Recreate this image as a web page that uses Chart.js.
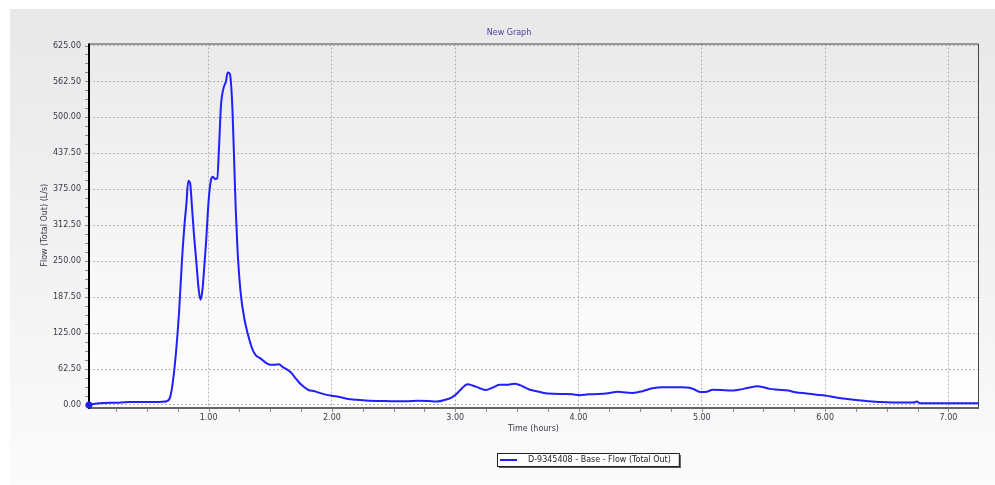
<!DOCTYPE html>
<html>
<head>
<meta charset="utf-8">
<title>New Graph</title>
<script src="https://cdn.jsdelivr.net/npm/chart.js@4.4.1/dist/chart.umd.min.js"></script>
<style>
    body { margin: 0; background: #ffffff; }
    #wrap { position: relative; width: 995px; height: 485px; }
</style>
</head>
<body>
<div id="wrap"><canvas id="flowChart"></canvas></div>
<script>
        // Data
        const chartTitle = 'New Graph';
        const seriesLabel = 'D-9345408 - Base - Flow (Total Out)';
        const xAxisTitle = 'Time (hours)';
        const yAxisTitle = 'Flow (Total Out) (L/s)';

        const timeHours = [
            0.03, 0.08, 0.15, 0.25, 0.35, 0.45, 0.55, 0.62, 0.66, 0.69,
            0.71, 0.735, 0.76, 0.785, 0.805, 0.82, 0.835, 0.85, 0.865, 0.88,
            0.90, 0.92, 0.935, 0.95, 0.965, 0.98, 1.00, 1.02, 1.035, 1.05,
            1.07, 1.085, 1.10, 1.12, 1.14, 1.155, 1.172, 1.19, 1.205, 1.22,
            1.235, 1.26, 1.29, 1.32, 1.35, 1.38, 1.42, 1.46, 1.50, 1.54,
            1.57, 1.60, 1.64, 1.67, 1.70, 1.73, 1.77, 1.81, 1.86, 1.90,
            1.95, 2.00, 2.06, 2.12, 2.20, 2.30, 2.40, 2.50, 2.60, 2.70,
            2.78, 2.85, 2.92, 2.97, 3.01, 3.05, 3.10, 3.14, 3.20, 3.25,
            3.30, 3.36, 3.42, 3.48, 3.53, 3.60, 3.66, 3.72, 3.80, 3.88,
            3.95, 4.01, 4.08, 4.16, 4.24, 4.32, 4.36, 4.44, 4.52, 4.60,
            4.68, 4.76, 4.84, 4.90, 4.94, 4.99, 5.04, 5.09, 5.16, 5.23,
            5.30, 5.38, 5.45, 5.50, 5.55, 5.62, 5.70, 5.76, 5.85, 5.93,
            6.00, 6.08, 6.16, 6.25, 6.35, 6.45, 6.55, 6.65, 6.72, 6.745,
            6.77, 6.85, 7.00, 7.10, 7.24
        ];
        const flowValues = [
            0, 2, 3.5, 4, 5, 5, 5, 5.5, 6.5, 15,
            40, 90, 160, 255, 315, 350, 390, 386, 345, 300,
            250, 200, 183, 200, 240, 285, 355, 392, 397, 393,
            394, 450, 520, 550, 562, 578, 576, 530, 440, 340,
            268, 195, 150, 122, 100, 87, 81, 74, 70, 70,
            71, 66, 61, 56, 48, 40, 32, 26, 24, 21,
            18, 16, 14, 11, 9, 7.5, 7, 6.5, 6.5, 7.5,
            7, 6, 9, 13, 19, 28, 36, 34, 29, 26,
            30, 35, 35, 37, 34, 27, 24, 21, 19.5, 19,
            18.5, 17, 18.5, 19, 20.5, 23, 22, 21, 24, 29,
            31, 31, 31, 30, 27, 22.5, 23, 26.5, 26, 25,
            26.5, 30, 32.5, 31, 28, 26.5, 25, 22, 20, 18,
            16.5, 13.5, 11, 8.5, 6.5, 5, 4.5, 4.5, 4.5, 6,
            3, 3, 3, 3, 3
        ];

        const yTickValues = [0, 62.5, 125, 187.5, 250, 312.5, 375, 437.5, 500, 562.5, 625];
        const xTickValues = [1, 2, 3, 4, 5, 6, 7];

        const lineColor = '#1f1fff';
        const labelColor = '#3b3848';

        Chart.defaults.font.family = "'DejaVu Sans', sans-serif";
        Chart.defaults.font.size = 8;
        Chart.defaults.color = labelColor;

        // Grey panel and gradient plot background
        const backgroundPlugin = {
            id: 'backgroundPlugin',
            beforeDraw(chart) {
                const ctx = chart.ctx;
                const area = chart.chartArea;
                ctx.save();
                ctx.fillStyle = '#ffffff';
                ctx.fillRect(0, 0, chart.width, chart.height);

                const panel = ctx.createLinearGradient(0, 9, 0, chart.height);
                panel.addColorStop(0, '#e8e8e8');
                panel.addColorStop(1, '#fbfbfb');
                ctx.fillStyle = panel;
                ctx.fillRect(10, 9, chart.width - 10, chart.height - 9);

                const plot = ctx.createLinearGradient(0, area.top, 0, area.bottom);
                plot.addColorStop(0, '#eaeaea');
                plot.addColorStop(1, '#ffffff');
                ctx.fillStyle = plot;
                ctx.fillRect(area.left, area.top, area.right - area.left, area.bottom - area.top);
                ctx.restore();
            }
        };

        // Axis lines, frame and minor ticks (under the line), then the boxed legend
        const framePlugin = {
            id: 'framePlugin',
            beforeDatasetsDraw(chart) {
                const ctx = chart.ctx;
                const area = chart.chartArea;
                const xScale = chart.scales.x;
                const yScale = chart.scales.y;
                ctx.save();

                // top and right border
                ctx.strokeStyle = '#444444';
                ctx.lineWidth = 1;
                ctx.beginPath();
                ctx.moveTo(area.left, area.top + 0.5);
                ctx.lineTo(area.right + 0.5, area.top + 0.5);
                ctx.lineTo(area.right + 0.5, area.bottom + 2);
                ctx.stroke();

                // bottom axis
                ctx.strokeStyle = '#666666';
                ctx.lineWidth = 2;
                ctx.beginPath();
                ctx.moveTo(area.left, area.bottom + 1);
                ctx.lineTo(area.right + 1, area.bottom + 1);
                ctx.stroke();

                // left axis
                ctx.strokeStyle = '#000000';
                ctx.beginPath();
                ctx.moveTo(area.left, area.top);
                ctx.lineTo(area.left, area.bottom + 2);
                ctx.stroke();

                // minor ticks
                ctx.strokeStyle = '#8a8a8a';
                ctx.lineWidth = 1;
                ctx.beginPath();
                for (let t = 0.25; t <= xScale.max; t += 0.25) {
                    const px = Math.round(xScale.getPixelForValue(t)) + 0.5;
                    ctx.moveTo(px, area.bottom + 2);
                    ctx.lineTo(px, area.bottom + 5);
                }
                for (let v = 0; v <= 625; v += 15.625) {
                    const py = Math.round(yScale.getPixelForValue(v)) + 0.5;
                    ctx.moveTo(area.left - 4, py);
                    ctx.lineTo(area.left - 1, py);
                }
                ctx.stroke();
                ctx.restore();
            },
            afterDraw(chart) {
                const ctx = chart.ctx;
                ctx.save();
                ctx.font = "8px 'DejaVu Sans', sans-serif";
                const textW = ctx.measureText(seriesLabel).width;
                const bx = 497, by = 453, bh = 13;
                const bw = 31 + textW + 8;
                ctx.fillStyle = '#555555';
                ctx.fillRect(bx + 2, by + 2, bw, bh);
                ctx.fillStyle = '#ffffff';
                ctx.fillRect(bx, by, bw, bh);
                ctx.strokeStyle = '#222222';
                ctx.lineWidth = 1;
                ctx.strokeRect(bx + 0.5, by + 0.5, bw, bh);
                ctx.strokeStyle = lineColor;
                ctx.lineWidth = 2;
                ctx.beginPath();
                ctx.moveTo(bx + 3, by + 7);
                ctx.lineTo(bx + 20, by + 7);
                ctx.stroke();
                ctx.fillStyle = '#222222';
                ctx.textBaseline = 'middle';
                ctx.textAlign = 'left';
                ctx.fillText(seriesLabel, bx + 31, by + 7);
                ctx.restore();
            }
        };

        const gridStyle = {
            color: '#b4b4b4',
            lineWidth: 1,
            drawTicks: false
        };
        const dashedBorder = { display: false, dash: [2, 2] };

        const flowChart = new Chart(document.getElementById('flowChart'), {
            type: 'line',
            data: {
                datasets: [{
                    label: seriesLabel,
                    data: timeHours.map((t, i) => ({ x: t, y: flowValues[i] })),
                    borderColor: lineColor,
                    backgroundColor: lineColor,
                    borderWidth: 2,
                    cubicInterpolationMode: 'monotone',
                    pointRadius: (c) => c.dataIndex === 0 ? 3.5 : 0,
                    pointBorderWidth: 0,
                    fill: false,
                    clip: false
                }]
            },
            options: {
                responsive: true,
                maintainAspectRatio: false,
                animation: false,
                devicePixelRatio: 1,
                layout: {
                    padding: { left: 40, right: 17, top: 20, bottom: 50 }
                },
                plugins: {
                    legend: { display: false },
                    tooltip: { enabled: false },
                    title: {
                        display: true,
                        text: chartTitle,
                        color: '#4b3f9e',
                        font: { size: 8, weight: 'normal' },
                        padding: { top: 8.5, bottom: 5.4 }
                    }
                },
                scales: {
                    x: {
                        type: 'linear',
                        min: 0.03,
                        max: 7.24,
                        afterBuildTicks: (scale) => {
                            scale.ticks = xTickValues.map(v => ({ value: v }));
                        },
                        afterFit: (scale) => { scale.height = 28; },
                        ticks: {
                            padding: 6,
                            callback: (v) => Number(v).toFixed(2)
                        },
                        grid: gridStyle,
                        border: dashedBorder,
                        title: {
                            display: true,
                            text: xAxisTitle,
                            color: labelColor,
                            padding: { top: 0, bottom: 1 }
                        }
                    },
                    y: {
                        min: -3.5,
                        max: 628.5,
                        afterBuildTicks: (scale) => {
                            scale.ticks = yTickValues.map(v => ({ value: v }));
                        },
                        afterFit: (scale) => { scale.width = 49; },
                        ticks: {
                            padding: 8,
                            callback: (v) => Number(v).toFixed(2)
                        },
                        grid: gridStyle,
                        border: dashedBorder,
                        title: {
                            display: true,
                            text: yAxisTitle,
                            color: labelColor,
                            padding: { top: 0, bottom: 0 }
                        }
                    }
                }
            },
            plugins: [backgroundPlugin, framePlugin]
        });
</script>
</body>
</html>
